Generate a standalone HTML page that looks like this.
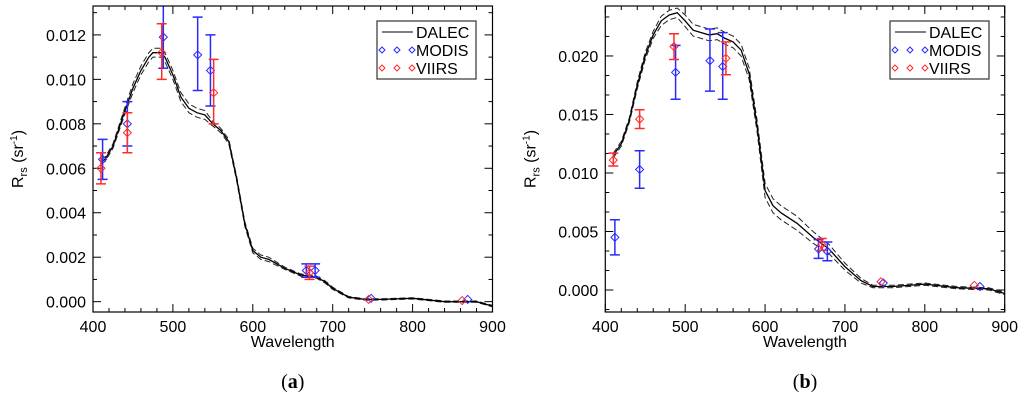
<!DOCTYPE html>
<html><head><meta charset="utf-8"><style>
body{margin:0;background:#fff;}
svg{display:block;font-family:"Liberation Sans",sans-serif;}
</style></head><body>
<svg id="svg" width="1024" height="400" viewBox="0 0 1024 400" xmlns="http://www.w3.org/2000/svg"></svg>
<script>
// ---- Panel (a) data ----
const dalecWlA = [410,415,425,440,450,460,470,475,485,490,500,510,520,530,540,550,560,570,580,590,600,610,620,640,660,680,690,700,720,740,760,800,840,880,900];
const dalecA   = [0.0063,0.0064,0.0070,0.0086,0.0096,0.0104,0.0110,0.0112,0.0112,0.0110,0.0102,0.0092,0.0087,0.0085,0.0084,0.0080,0.0077,0.0072,0.0055,0.0035,0.0023,0.0020,0.0019,0.0015,0.0012,0.0011,0.0009,0.0006,0.0002,0.0001,0.0001,0.00015,0.0000,0.0000,-0.0002];
const bandA    = [0.0001,0.0001,0.0001,0.00015,0.0002,0.0002,0.0002,0.0002,0.0002,0.0002,0.0002,0.0002,0.0002,0.0002,0.0002,0.0001,0.0001,0.0001,0.0001,0.0001,0.0001,0.0001,0.0001,0.00005,0.00005,0.00005,0.00005,0.00005,0.00003,0.00003,0.00003,0.00003,0.00003,0.00003,0.00003];
const modisWlA = [412,443,488,531,547,667,678,748,869];
const modisA   = [0.0064,0.0080,0.0119,0.0111,0.0104,0.0014,0.0014,0.00015,0.0001];
const modisLoA = [0.0055,0.0070,0.0105,0.0095,0.0088,0.0011,0.0011,null,null];
const modisHiA = [0.0073,0.0090,0.0135,0.0128,0.0120,0.0017,0.0017,null,null];
const viirsWlA = [410,443,486,551,671,745,862];
const viirsA   = [0.0060,0.0076,0.0112,0.0094,0.0013,0.0001,0.00005];
const viirsLoA = [0.0053,0.0067,0.0100,0.0080,0.0010,null,null];
const viirsHiA = [0.0067,0.0085,0.0125,0.0109,0.0016,null,null];
const yTicksA  = [0,0.002,0.004,0.006,0.008,0.010,0.012];
// ---- Panel (b) data ----
const dalecWlB = [410,420,430,440,450,460,470,480,490,500,510,520,530,540,550,560,570,580,590,600,610,620,640,660,680,700,720,735,760,800,840,880,900];
const dalecB   = [0.0115,0.0125,0.0145,0.0175,0.0200,0.0218,0.0230,0.0235,0.0237,0.0230,0.0222,0.0220,0.0218,0.0219,0.0215,0.0212,0.0205,0.0185,0.0140,0.0085,0.0072,0.0066,0.0057,0.0045,0.0035,0.0020,0.0008,0.0003,0.0003,0.0005,0.0002,0.0001,-0.0003];
const bandB    = [0.0002,0.0002,0.0002,0.0003,0.0003,0.0003,0.0004,0.0004,0.0004,0.0005,0.0005,0.0005,0.0005,0.0005,0.0005,0.0005,0.0005,0.0005,0.0005,0.0006,0.0006,0.0006,0.0006,0.0005,0.0004,0.0003,0.0002,0.0001,0.0001,0.0001,0.0001,0.0001,0.0001];
const modisWlB = [412,443,488,531,547,667,678,748,869];
const modisB   = [0.0045,0.0103,0.0186,0.0196,0.0191,0.0035,0.0033,0.0006,0.0003];
const modisLoB = [0.0030,0.0087,0.0163,0.0170,0.0163,0.0027,0.0025,null,null];
const modisHiB = [0.0060,0.0119,0.0209,0.0223,0.0220,0.0043,0.0041,null,null];
const viirsWlB = [410,443,486,551,671,745,862];
const viirsB   = [0.0111,0.0146,0.0208,0.0198,0.0039,0.0007,0.0004];
const viirsLoB = [0.0106,0.0138,0.0197,0.0184,0.0034,null,null];
const viirsHiB = [0.0117,0.0154,0.0219,0.0212,0.0044,null,null];
const yTicksB  = [0,0.005,0.010,0.015,0.020];
const xTicks   = [400,500,600,700,800,900];

const NS="http://www.w3.org/2000/svg";
const svg=document.getElementById('svg');
function mk(tag,attrs,parent){const e=document.createElementNS(NS,tag);for(const k in attrs)e.setAttribute(k,attrs[k]);(parent||svg).appendChild(e);return e;}

function panel(cfg){
  const g=mk('g',{});
  
  
  const L=cfg.L,R=cfg.R,T=6,B=312;
  const xs=w=>L+(w-400)/500*(R-L);
  const ys=v=>B-(v-cfg.ymin)/(cfg.ymax-cfg.ymin)*(B-T);
  const tg=mk('g',{stroke:'#000','stroke-width':1},g);
  for(let w=400;w<=900;w+=20){
    const major=(w%100===0); const len=major?8:4; const x=xs(w);
    mk('line',{x1:x,x2:x,y1:B,y2:B-len},tg);
    mk('line',{x1:x,x2:x,y1:T,y2:T+len},tg);
  }
  for(let v=cfg.minorStart;v<=cfg.ymax;v+=cfg.minor){
    const y=ys(v); if(y<T||y>B) continue;
    const major=yTicksMaj(v,cfg.major); const len=major?8:4;
    mk('line',{x1:L,x2:L+len,y1:y,y2:y},tg);
    mk('line',{x1:R,x2:R-len,y1:y,y2:y},tg);
  }
  xTicks.forEach(w=>{const t=mk('text',{x:xs(w),y:B+20,'text-anchor':'middle','font-size':16},g);t.textContent=w;
    });
  cfg.yt.forEach(v=>{const t=mk('text',{x:L-7,y:ys(v)+6,'text-anchor':'end','font-size':16},g);t.textContent=v.toFixed(3);
    });
  const path=(arr,off,sgn)=>arr.map((v,i)=>(i?'L':'M')+xs(cfg.dw[i]).toFixed(1)+','+ys(v+sgn*(off?off[i]:0)).toFixed(1)).join(' ');
  const up=mk('path',{d:path(cfg.d,cfg.band,1),fill:'none',stroke:'#222','stroke-width':1,'stroke-dasharray':'6,3'},g);
  
  const lo=mk('path',{d:path(cfg.d,cfg.band,-1),fill:'none',stroke:'#222','stroke-width':1,'stroke-dasharray':'6,3'},g);
  
  const m=mk('path',{d:path(cfg.d,null,0),fill:'none',stroke:'#000','stroke-width':1.3},g);
  
  function series(wl,val,lo,hi,col,name){
    wl.forEach((w,i)=>{
      const x=xs(w),y=ys(val[i]);
      if(lo[i]!==null){
        const yl=ys(lo[i]),yh=Math.max(T,ys(hi[i]));
        const e=mk('path',{d:`M${x},${yl}V${yh}M${x-5},${yl}H${x+5}`+(ys(hi[i])>=T?`M${x-5},${yh}H${x+5}`:''),stroke:col,'stroke-width':1.5,fill:'none'},g);
        
      }
      const d=mk('path',{d:`M${x},${y-4}L${x+4},${y}L${x},${y+4}L${x-4},${y}Z`,stroke:col,'stroke-width':1,fill:'none'},g);
      
    });
  }
  series(cfg.mw,cfg.m,cfg.ml,cfg.mh,'#2a2aff','modis');
  series(cfg.vw,cfg.v,cfg.vl,cfg.vh,'#ff2a2a','viirs');
  const f=mk('rect',{x:L,y:T,width:R-L,height:B-T,fill:'none',stroke:'#000','stroke-width':1.2},g);
  
  const lg=mk('g',{},g);
  
  const lx=cfg.lx;
  mk('rect',{x:lx,y:21,width:99,height:58,fill:'#fff',stroke:'#333','stroke-width':1.2},lg);
  mk('line',{x1:lx+5,x2:lx+36,y1:32,y2:32,stroke:'#000','stroke-width':1},lg);
  [['DALEC',32,null],['MODIS',50,'#2a2aff'],['VIIRS',68,'#ff2a2a']].forEach(r=>{
    if(r[2]) [lx+5,lx+20,lx+35].forEach(cx=>mk('path',{d:`M${cx},${r[1]-3}L${cx+3},${r[1]}L${cx},${r[1]+3}L${cx-3},${r[1]}Z`,stroke:r[2],fill:'none','stroke-width':1},lg));
    const t=mk('text',{x:lx+39,y:r[1]+6,'font-size':16},lg);t.textContent=r[0];
    
  });
  const xt=mk('text',{x:(L+R)/2,y:347,'text-anchor':'middle','font-size':16},g);xt.textContent='Wavelength';
  
  const yt=mk('text',{transform:`translate(${L-70},${(T+B)/2}) rotate(-90)`,'text-anchor':'middle','font-size':16},g);
  yt.innerHTML='R<tspan font-size="11" dy="4">rs</tspan><tspan dy="-4"> (sr</tspan><tspan font-size="10" dy="-6">-1</tspan><tspan dy="6">)</tspan>';
  
  const cap=mk('text',{x:(L+R)/2,y:388,'text-anchor':'middle','font-size':20,'font-family':'Liberation Serif, serif'},g);
  cap.innerHTML='(<tspan font-weight="bold">'+cfg.id+'</tspan>)';
  
}
function yTicksMaj(v,maj){const r=v/maj;return Math.abs(r-Math.round(r))<1e-6;}

panel({id:'a',L:93,R:492.5,ymin:-0.000465,ymax:0.01330,minor:0.001,minorStart:0,major:0.002,yt:yTicksA,
  dw:dalecWlA,d:dalecA,band:bandA,mw:modisWlA,m:modisA,ml:modisLoA,mh:modisHiA,vw:viirsWlA,v:viirsA,vl:viirsLoA,vh:viirsHiA,lx:377});
panel({id:'b',L:605.3,R:1004.7,ymin:-0.00188,ymax:0.02427,minor:0.005/3,minorStart:-0.005/3,major:0.005,yt:yTicksB,
  dw:dalecWlB,d:dalecB,band:bandB,mw:modisWlB,m:modisB,ml:modisLoB,mh:modisHiB,vw:viirsWlB,v:viirsB,vl:viirsLoB,vh:viirsHiB,lx:890});
</script>
</body></html>
